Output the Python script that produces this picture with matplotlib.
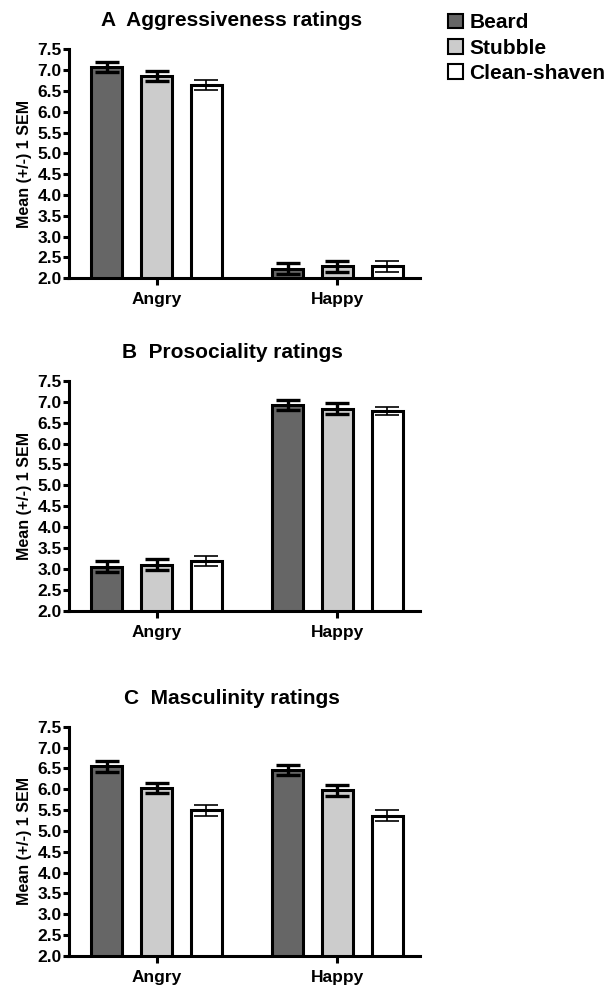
import matplotlib.pyplot as plt
from matplotlib.patches import Patch
import numpy as np

plt.rcParams['font.family'] = ['Liberation Sans', 'DejaVu Sans']
plt.rcParams['font.weight'] = 'bold'

emotions = ['Angry', 'Happy']
groups = ['Beard', 'Stubble', 'Clean-shaven']
colors = ['#666666', '#cccccc', '#ffffff']

titles = ['A  Aggressiveness ratings', 'B  Prosociality ratings', 'C  Masculinity ratings']

# means per group, [Angry, Happy]
aggr_mean = {'Beard': [7.08, 2.23], 'Stubble': [6.86, 2.29], 'Clean-shaven': [6.64, 2.29]}
aggr_sem = {'Beard': [0.12, 0.13], 'Stubble': [0.12, 0.13], 'Clean-shaven': [0.12, 0.13]}
pros_mean = {'Beard': [3.06, 6.93], 'Stubble': [3.10, 6.83], 'Clean-shaven': [3.20, 6.78]}
pros_sem = {'Beard': [0.14, 0.12], 'Stubble': [0.13, 0.13], 'Clean-shaven': [0.12, 0.10]}
masc_mean = {'Beard': [6.55, 6.46], 'Stubble': [6.03, 5.97], 'Clean-shaven': [5.50, 5.37]}
masc_sem = {'Beard': [0.13, 0.13], 'Stubble': [0.13, 0.13], 'Clean-shaven': [0.13, 0.12]}

yticks = [2.0, 2.5, 3.0, 3.5, 4.0, 4.5, 5.0, 5.5, 6.0, 6.5, 7.0, 7.5]

W, H = 608, 985
fig = plt.figure(figsize=(W / 100, H / 100), dpi=100)

# pixel boxes: (left, top, right, bottom)
boxes = [(68.5, 49.3, 420, 278.3), (68.5, 380.7, 420, 611), (68.5, 726.7, 420, 956)]
title_y = [21, 353, 698]
means = [aggr_mean, pros_mean, masc_mean]
sems = [aggr_sem, pros_sem, masc_sem]

x = np.arange(len(emotions))
offsets = [-0.275, 0, 0.275]
width = 0.172
err_lw = [2.4, 2.4, 1.2]

for k in range(3):
    l, t, r, b = boxes[k]
    ax = fig.add_axes([l / W, 1 - b / H, (r - l) / W, (b - t) / H])
    for i, g in enumerate(groups):
        ax.bar(x + offsets[i], means[k][g], width, bottom=0, color=colors[i],
               edgecolor='black', linewidth=2.2, zorder=2)
        ax.errorbar(x + offsets[i], means[k][g], yerr=sems[k][g], fmt='none',
                    ecolor='black', elinewidth=err_lw[i], capsize=8.5,
                    capthick=err_lw[i], zorder=3)
    ax.set_ylim(2.0, 7.5)
    ax.set_xlim(-0.487, 1.457)
    ax.set_yticks(yticks)
    ax.set_yticklabels(['%.1f' % v for v in yticks], fontsize=12.5, fontweight='bold')
    ax.set_xticks(x)
    ax.set_xticklabels(emotions, fontsize=12.5, fontweight='bold')
    ax.spines['top'].set_visible(False)
    ax.spines['right'].set_visible(False)
    ax.spines['left'].set_linewidth(2.2)
    ax.spines['bottom'].set_linewidth(2.2)
    ax.tick_params(axis='y', length=4, width=2.2, pad=1)
    ax.tick_params(axis='x', length=5, width=2.2, pad=5)
    ax.set_ylabel('Mean (+/-) 1 SEM', fontsize=11.5, fontweight='bold', labelpad=4)
    fig.text(232 / W, 1 - title_y[k] / H, titles[k], fontsize=15, fontweight='bold',
             ha='center', va='center')

handles = [Patch(facecolor=colors[i], edgecolor='black', linewidth=1.5) for i in range(3)]
fig.legend(handles, groups, loc='upper left', bbox_to_anchor=(440 / W, 1 - 5 / H),
           frameon=False, handlelength=0.7, handleheight=0.7,
           handletextpad=0.3, labelspacing=0.3, borderaxespad=0,
           prop={'weight': 'bold', 'size': 15})

fig.savefig('out.png', dpi=100)
